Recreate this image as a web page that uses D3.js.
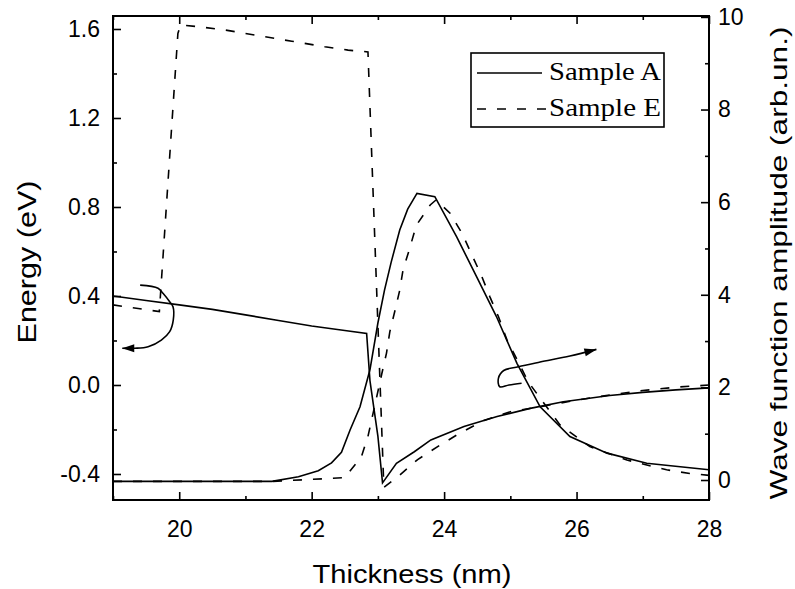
<!DOCTYPE html>
<html>
<head>
<meta charset="utf-8">
<script src="https://cdn.jsdelivr.net/npm/d3@7"></script>
<style>
  html, body { margin: 0; padding: 0; background: #fff; }
  svg { display: block; }
  .tick text { font-family: "Liberation Sans", Arial, sans-serif; font-size: 23px; fill: #000; }
</style>
</head>
<body>
<svg id="chart" width="795" height="589"></svg>
<script>
// ---------------- data ----------------
const energyA_x = [19, 19.5, 20, 20.5, 21, 21.5, 22, 22.5, 22.83, 22.88, 23.0, 23.07, 23.28, 23.55, 23.8, 24.3, 24.8, 25.3, 25.8, 26.5, 27.0, 27.5, 28];
const energyA_y = [0.40, 0.38, 0.36, 0.34, 0.315, 0.29, 0.265, 0.245, 0.232, 0.02, -0.23, -0.44, -0.352, -0.30, -0.247, -0.187, -0.142, -0.105, -0.075, -0.047, -0.033, -0.022, -0.013];

const energyE_x = [19, 19.7, 19.98, 20.02, 20.3, 20.7, 21.2, 21.7, 22.2, 22.55, 22.85, 23.09, 23.33, 23.6, 23.94, 24.24, 24.6, 25.0, 25.5, 26.0, 26.5, 27.0, 27.5, 28];
const energyE_y = [0.36, 0.33, 1.58, 1.618, 1.61, 1.595, 1.57, 1.545, 1.52, 1.505, 1.497, -0.46, -0.405, -0.335, -0.27, -0.216, -0.16, -0.12, -0.095, -0.068, -0.045, -0.025, -0.01, 0.0];

const waveA_x = [19, 21.4, 21.8, 22.1, 22.3, 22.45, 22.58, 22.73, 22.88, 23.0, 23.1, 23.2, 23.33, 23.45, 23.59, 23.86, 24.19, 24.49, 24.79, 25.10, 25.45, 25.90, 26.46, 27.06, 28];
const waveA_y = [-0.03, -0.03, 0.07, 0.2, 0.37, 0.6, 1.08, 1.58, 2.38, 3.39, 4.1, 4.7, 5.4, 5.85, 6.19, 6.12, 5.25, 4.39, 3.53, 2.52, 1.58, 0.94, 0.58, 0.36, 0.22];

const waveE_x = [19, 21.4, 22.5, 22.75, 22.85, 23.06, 23.13, 23.18, 23.26, 23.33, 23.38, 23.48, 23.58, 23.79, 23.88, 24.09, 24.27, 24.42, 24.57, 24.69, 24.82, 24.95, 25.12, 25.27, 25.47, 25.75, 26.2, 26.76, 27.36, 27.71, 28];
const waveE_y = [-0.03, -0.03, 0.05, 0.5, 0.94, 2.3, 2.74, 3.2, 3.67, 4.1, 4.54, 5.0, 5.5, 5.94, 6.05, 5.76, 5.33, 4.86, 4.39, 3.96, 3.53, 3.02, 2.55, 2.12, 1.73, 1.19, 0.72, 0.43, 0.22, 0.14, 0.1];

// annotation arrows (thickness, energy)
const arrowLeft_x = [19.41, 19.68, 19.755, 19.856, 19.906, 19.91, 19.856, 19.73, 19.53, 19.33, 19.14];
const arrowLeft_y = [0.449, 0.435, 0.412, 0.374, 0.352, 0.292, 0.24, 0.202, 0.172, 0.165, 0.165];
const arrowRight_x = [25.17, 24.98, 24.84, 24.82, 24.9, 25.12, 25.45, 25.9, 26.3];
const arrowRight_y = [0.008, 0.0, -0.008, 0.03, 0.065, 0.082, 0.103, 0.13, 0.16];

const xTicks = [20, 22, 24, 26, 28];
const xMinor = [19, 21, 23, 25, 27];
const eTicks = [-0.4, 0.0, 0.4, 0.8, 1.2, 1.6];
const eMinor = [-0.2, 0.2, 0.6, 1.0, 1.4];
const wTicks = [0, 2, 4, 6, 8, 10];
const wMinor = [1, 3, 5, 7, 9];

const seriesNames = ["Sample A", "Sample E"];
const xTitle = "Thickness (nm)";
const eTitle = "Energy (eV)";
const wTitle = "Wave function amplitude (arb.un.)";

// ---------------- layout ----------------
const L = 113, R = 709, T = 16, B = 500;
const svg = d3.select("#chart");

const x = d3.scaleLinear().domain([19, 28]).range([L, R]);
const yE = d3.scaleLinear().domain([-0.5169, 1.6584]).range([B, T]);
const yW = d3.scaleLinear().domain([-0.432, 10.02]).range([B, T]);

const zip = (xs, ys) => xs.map((v, i) => [v, ys[i]]);

const lineE = d3.line().x(d => x(d[0])).y(d => yE(d[1]));
const lineW = d3.line().x(d => x(d[0])).y(d => yW(d[1]));
const smoothE = d3.line().x(d => x(d[0])).y(d => yE(d[1])).curve(d3.curveCatmullRom.alpha(0.5));

const dash = "9,11";

// curves
const g = svg.append("g").attr("fill", "none").attr("stroke", "#000").attr("stroke-width", 1.6);
g.append("path").attr("d", lineE(zip(energyA_x, energyA_y)));
g.append("path").attr("d", lineE(zip(energyE_x, energyE_y))).attr("stroke-dasharray", dash);
g.append("path").attr("d", lineW(zip(waveA_x, waveA_y)));
g.append("path").attr("d", lineW(zip(waveE_x, waveE_y))).attr("stroke-dasharray", dash);

// arrows
function arrow(xs, ys) {
  const pts = zip(xs, ys);
  g.append("path").attr("d", smoothE(pts));
  const p1 = pts[pts.length - 2], p2 = pts[pts.length - 1];
  const ax = x(p2[0]), ay = yE(p2[1]);
  const bx = x(p1[0]), by = yE(p1[1]);
  const ang = Math.atan2(ay - by, ax - bx);
  const len = 12, w = 4;
  const hx = ax - len * Math.cos(ang), hy = ay - len * Math.sin(ang);
  const nx = -Math.sin(ang) * w, ny = Math.cos(ang) * w;
  svg.append("path")
    .attr("d", `M${ax},${ay}L${hx + nx},${hy + ny}L${hx - nx},${hy - ny}Z`)
    .attr("fill", "#000");
}
arrow(arrowLeft_x, arrowLeft_y);
arrow(arrowRight_x, arrowRight_y);

// axes
function styleAxis(sel) {
  sel.select(".domain").remove();
  sel.selectAll(".tick line").attr("stroke", "#000").attr("stroke-width", 1.6);
}
svg.append("g").attr("transform", `translate(0,${B})`)
  .call(d3.axisBottom(x).tickValues(xTicks).tickSize(-8).tickPadding(21).tickFormat(d3.format("d")))
  .call(styleAxis);
svg.append("g").attr("transform", `translate(0,${B})`)
  .call(d3.axisBottom(x).tickValues(xMinor).tickSize(-4).tickFormat(""))
  .call(styleAxis);
svg.append("g").attr("transform", `translate(0,${T})`)
  .call(d3.axisTop(x).tickValues(xTicks).tickSize(-8).tickFormat(""))
  .call(styleAxis);
svg.append("g").attr("transform", `translate(0,${T})`)
  .call(d3.axisTop(x).tickValues(xMinor).tickSize(-4).tickFormat(""))
  .call(styleAxis);

svg.append("g").attr("transform", `translate(${L},0)`)
  .call(d3.axisLeft(yE).tickValues(eTicks).tickSize(-8).tickPadding(13).tickFormat(d3.format(".1f")))
  .call(styleAxis);
svg.append("g").attr("transform", `translate(${L},0)`)
  .call(d3.axisLeft(yE).tickValues(eMinor).tickSize(-4).tickFormat(""))
  .call(styleAxis);

svg.append("g").attr("transform", `translate(${R},0)`)
  .call(d3.axisRight(yW).tickValues(wTicks).tickSize(-8).tickPadding(9).tickFormat(d3.format("d")))
  .call(styleAxis);
svg.append("g").attr("transform", `translate(${R},0)`)
  .call(d3.axisRight(yW).tickValues(wMinor).tickSize(-4).tickFormat(""))
  .call(styleAxis);

svg.selectAll(".tick text").text(function() { return this.textContent.replace("\u2212", "-"); });

// frame
svg.append("rect").attr("x", L).attr("y", T).attr("width", R - L).attr("height", B - T)
  .attr("fill", "none").attr("stroke", "#000").attr("stroke-width", 2);

// titles
const sans = "'Liberation Sans', Arial, sans-serif";
svg.append("text").attr("x", (L + R) / 2 + 1).attr("y", 583)
  .attr("text-anchor", "middle").attr("font-family", sans).attr("font-size", 26)
  .attr("textLength", 199).attr("lengthAdjust", "spacingAndGlyphs")
  .text(xTitle);
svg.append("text").attr("transform", "translate(36,262) rotate(-90)")
  .attr("text-anchor", "middle").attr("font-family", sans).attr("font-size", 25)
  .attr("textLength", 163).attr("lengthAdjust", "spacingAndGlyphs")
  .text(eTitle);
svg.append("text").attr("transform", "translate(787,263) rotate(-90)")
  .attr("text-anchor", "middle").attr("font-family", sans).attr("font-size", 24)
  .attr("textLength", 473).attr("lengthAdjust", "spacingAndGlyphs")
  .text(wTitle);

// legend
const serif = "'Liberation Serif', 'Times New Roman', serif";
const leg = svg.append("g");
leg.append("rect").attr("x", 471).attr("y", 53).attr("width", 193).attr("height", 74)
  .attr("fill", "#fff").attr("stroke", "#000").attr("stroke-width", 1.6);
const rows = [{ y: 73, dash: null }, { y: 109, dash: dash }];
rows.forEach((r, i) => {
  leg.append("line").attr("x1", 477).attr("x2", i === 0 ? 542 : 548).attr("y1", r.y).attr("y2", r.y)
    .attr("stroke", "#000").attr("stroke-width", 1.6).attr("stroke-dasharray", r.dash);
  leg.append("text").attr("x", 549).attr("y", r.y + 7)
    .attr("font-family", serif).attr("font-size", 26)
    .attr("textLength", 112).attr("lengthAdjust", "spacingAndGlyphs")
    .text(seriesNames[i]);
});
</script>
</body>
</html>
